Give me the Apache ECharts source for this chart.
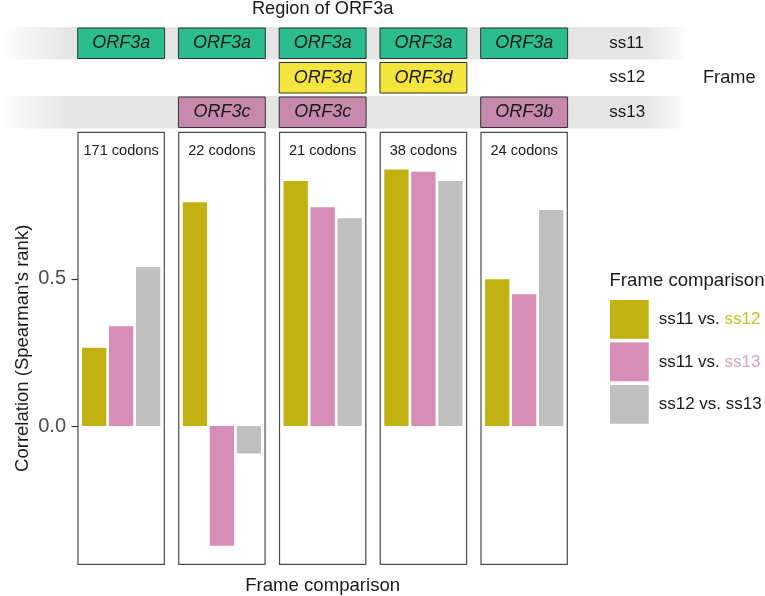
<!DOCTYPE html>
<html>
<head>
<meta charset="utf-8">
<script src="https://cdn.jsdelivr.net/npm/echarts@6/dist/echarts.min.js"></script>
<style>html,body{margin:0;padding:0;background:#fff;}#c{width:765px;height:596px;}</style>
</head>
<body>
<div id="c"></div>
<script>
// ---------- data ----------
const regionLabels = ['171 codons', '22 codons', '21 codons', '38 codons', '24 codons'];
const comparisons = ['ss11 vs. ss12', 'ss11 vs. ss13', 'ss12 vs. ss13'];
const corr_11_12 = [0.266, 0.760, 0.832, 0.871, 0.498];
const corr_11_13 = [0.339, -0.406, 0.743, 0.863, 0.447];
const corr_12_13 = [0.540, -0.093, 0.705, 0.832, 0.733];
const frames = ['ss11', 'ss12', 'ss13'];
const geneRegion = [0, 1, 2, 3, 4, 2, 3, 1, 2, 4];
const geneFrame = ['ss11', 'ss11', 'ss11', 'ss11', 'ss11', 'ss12', 'ss12', 'ss13', 'ss13', 'ss13'];
const geneName = ['ORF3a', 'ORF3a', 'ORF3a', 'ORF3a', 'ORF3a', 'ORF3d', 'ORF3d', 'ORF3c', 'ORF3c', 'ORF3b'];
const yTicks = [0, 0.5];

// ---------- layout / style ----------
const FONT = 'Liberation Sans, Arial, Helvetica, sans-serif';
const barColors = ['#c1b212', '#d68db6', '#bfbfbf'];
const frameColors = { ss11: '#2bbd8d', ss12: '#f3e53b', ss13: '#c689ad' };
const P0 = 78, PW = 86.3, STEP = 100.75, PTOP = 132.3, PH = 432;
const YMIN = -0.469, YMAX = 0.997;
const STRIP_TOP = 26, ROWH = 34.5;

const chart = echarts.init(document.getElementById('c'), null, { renderer: 'canvas' });

const grids = [], xAxes = [], yAxes = [], series = [];
regionLabels.forEach((lab, i) => {
  grids.push({ left: P0 + STEP * i, top: PTOP, width: PW, height: PH, show: true,
    borderColor: '#4d4d4d', borderWidth: 1.2, backgroundColor: 'transparent' });
  xAxes.push({ gridIndex: i, type: 'value', min: 0.4, max: 3.6, show: false });
  yAxes.push({ gridIndex: i, type: 'value', min: YMIN, max: YMAX,
    show: i === 0,
    name: i === 0 ? "Correlation (Spearman's rank)" : '',
    nameLocation: 'middle', nameRotate: 90, nameGap: 46,
    nameTextStyle: { fontSize: 18.5, color: '#1a1a1a', fontFamily: FONT },
    splitLine: { show: false },
    axisLine: { show: false },
    axisTick: { show: true, length: 6.5, lineStyle: { color: '#333', width: 1.2 }, customValues: yTicks },
    axisLabel: { show: true, customValues: yTicks, margin: 12, fontSize: 20, color: '#4d4d4d', fontFamily: FONT,
      formatter: v => v.toFixed(1) }
  });
  const vals = [corr_11_12[i], corr_11_13[i], corr_12_13[i]];
  vals.forEach((v, k) => {
    series.push({ type: 'bar', name: comparisons[k], xAxisIndex: i, yAxisIndex: i,
      data: [[k + 1, v]], barWidth: 24.3, barGap: '-100%',
      itemStyle: { color: barColors[k] }, silent: true, animation: false });
  });
});

// strip grid (gene boxes)
const SI = regionLabels.length;
grids.push({ left: P0, top: STRIP_TOP, width: STEP * 4 + PW, height: ROWH * 3, show: false });
xAxes.push({ gridIndex: SI, type: 'value', min: -PW / 2 / STEP, max: 4 + PW / 2 / STEP, show: false });
yAxes.push({ gridIndex: SI, type: 'category', data: frames, inverse: true, position: 'right',
  axisLine: { show: false }, axisTick: { show: false }, splitLine: { show: false },
  axisLabel: { margin: 42, fontSize: 17, color: '#1a1a1a', fontFamily: FONT, align: 'left' } });

series.push({
  type: 'custom', xAxisIndex: SI, yAxisIndex: SI, silent: true, animation: false,
  data: geneRegion.map((r, j) => [r, frames.indexOf(geneFrame[j]), geneName[j], geneFrame[j]]),
  renderItem: function (params, api) {
    const p = api.coord([api.value(0), api.value(1)]);
    const w = api.size([PW / STEP + 0.006, 0])[0];
    const h = 30.5;
    const idx = params.dataIndex;
    return { type: 'group', children: [
      { type: 'rect', shape: { x: p[0] - w / 2, y: p[1] - h / 2, width: w, height: h },
        style: { fill: frameColors[geneFrame[idx]], stroke: '#333', lineWidth: 1 } },
      { type: 'text', style: { text: geneName[idx], x: p[0], y: p[1], align: 'center', verticalAlign: 'middle',
        fontSize: 18, fontStyle: 'italic', fontFamily: FONT, fill: '#1a1a1a' } }
    ] };
  }
});

// background bands for ss11 and ss13 rows
const bandGrad = new echarts.graphic.LinearGradient(0, 0, 1, 0, [
  { offset: 0, color: 'rgba(229,229,229,0)' },
  { offset: 0.1, color: '#e5e5e5' },
  { offset: 0.935, color: '#e5e5e5' },
  { offset: 1, color: 'rgba(229,229,229,0)' }
]);
const graphics = [];
[0, 2].forEach(r => {
  graphics.push({ type: 'rect', z: -10, silent: true,
    shape: { x: 0, y: STRIP_TOP + ROWH * r + ROWH / 2 - 16.3, width: 690, height: 32.6 },
    style: { fill: bandGrad } });
});
regionLabels.forEach((lab, i) => {
  graphics.push({ type: 'text', silent: true, z: 10,
    style: { text: lab, x: P0 + STEP * i + PW / 2, y: 150.7, align: 'center', verticalAlign: 'middle',
      fontSize: 14.6, fontFamily: FONT, fill: '#1a1a1a' } });
});
graphics.push({ type: 'text', silent: true,
  style: { text: 'Region of ORF3a', x: P0 + (STEP * 4 + PW) / 2, y: 9, align: 'center', verticalAlign: 'middle',
    fontSize: 18.2, fontFamily: FONT, fill: '#1a1a1a' } });
graphics.push({ type: 'text', silent: true,
  style: { text: 'Frame', x: 703, y: 77.5, align: 'left', verticalAlign: 'middle',
    fontSize: 18.2, fontFamily: FONT, fill: '#1a1a1a' } });
graphics.push({ type: 'text', silent: true,
  style: { text: 'Frame comparison', x: P0 + (STEP * 4 + PW) / 2, y: 586, align: 'center', verticalAlign: 'middle',
    fontSize: 18.6, fontFamily: FONT, fill: '#1a1a1a' } });
graphics.push({ type: 'text', silent: true,
  style: { text: 'Frame comparison', x: 609.5, y: 281, align: 'left', verticalAlign: 'middle',
    fontSize: 18.6, fontFamily: FONT, fill: '#1a1a1a' } });

const option = {
  animation: false,
  backgroundColor: '#fff',
  grid: grids, xAxis: xAxes, yAxis: yAxes, series: series,
  graphic: graphics,
  legend: {
    data: comparisons, orient: 'vertical', left: 610, top: 300, padding: 0,
    itemWidth: 38.7, itemHeight: 38.7, itemGap: 3.8, icon: 'rect', selectedMode: false,
    formatter: function (name) {
      const parts = name.split(' vs. ');
      if (name === comparisons[0]) return '{a|' + parts[0] + ' vs. }{y|' + parts[1] + '}';
      if (name === comparisons[1]) return '{a|' + parts[0] + ' vs. }{p|' + parts[1] + '}';
      return '{a|' + name + '}';
    },
    textStyle: { fontSize: 17, fontFamily: FONT, color: '#1a1a1a', padding: [0, 0, 0, 5],
      rich: {
        a: { fontSize: 17, fontFamily: FONT, color: '#1a1a1a' },
        y: { fontSize: 17, fontFamily: FONT, color: '#cbbd28' },
        p: { fontSize: 17, fontFamily: FONT, color: '#dba3c6' }
      } }
  }
};
chart.setOption(option);
</script>
</body>
</html>
